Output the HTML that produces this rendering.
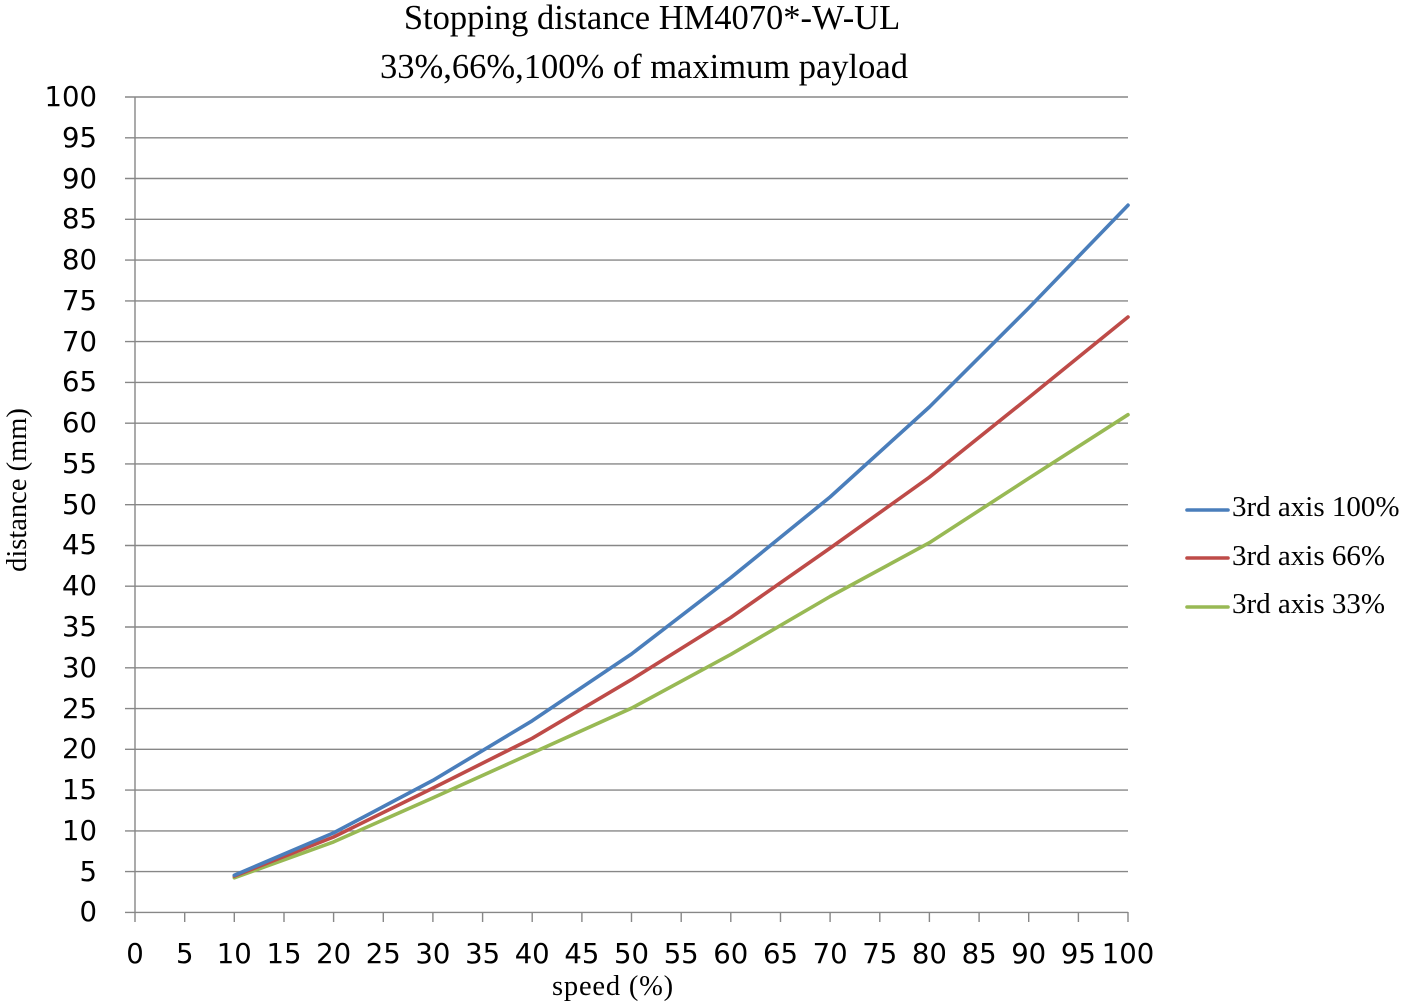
<!DOCTYPE html>
<html><head><meta charset="utf-8"><style>
html,body{margin:0;padding:0;background:#fff;}
svg{display:block;}
</style></head><body>
<svg width="1401" height="1005" viewBox="0 0 1401 1005" xmlns="http://www.w3.org/2000/svg">
<rect width="1401" height="1005" fill="#fff"/>
<g font-family="'Liberation Serif', serif" fill="#000" text-anchor="middle">
<text x="652" y="29" font-size="34.5">Stopping distance HM4070*-W-UL</text>
<text x="644" y="78" font-size="34.5">33%,66%,100% of maximum payload</text>
<text x="613" y="995" font-size="28.5" letter-spacing="0.8">speed (%)</text>
<text transform="translate(26,490) rotate(-90)" font-size="28.5">distance (mm)</text>
</g>
<g stroke="#878787" stroke-width="1.4" fill="none">
<path d="M125 97.0H1128M125 137.8H1128M125 178.5H1128M125 219.3H1128M125 260.1H1128M125 300.9H1128M125 341.6H1128M125 382.4H1128M125 423.2H1128M125 463.9H1128M125 504.7H1128M125 545.5H1128M125 586.2H1128M125 627.0H1128M125 667.8H1128M125 708.6H1128M125 749.3H1128M125 790.1H1128M125 830.9H1128M125 871.6H1128M125 912.4H1128"/>
<path d="M135 97V922M184.7 912V922M234.3 912V922M284 912V922M333.6 912V922M383.3 912V922M432.9 912V922M482.6 912V922M532.2 912V922M581.9 912V922M631.5 912V922M681.2 912V922M730.8 912V922M780.5 912V922M830.1 912V922M879.8 912V922M929.4 912V922M979.1 912V922M1028.7 912V922M1078.4 912V922M1128 912V922"/>
</g>
<g font-family="'DejaVu Sans', Verdana, sans-serif" font-size="27.5" fill="#000" text-anchor="end" dominant-baseline="central">
<text x="97" y="97">100</text><text x="97" y="138">95</text><text x="97" y="179">90</text><text x="97" y="219">85</text><text x="97" y="260">80</text><text x="97" y="301">75</text><text x="97" y="342">70</text><text x="97" y="382">65</text><text x="97" y="423">60</text><text x="97" y="464">55</text><text x="97" y="505">50</text><text x="97" y="545">45</text><text x="97" y="586">40</text><text x="97" y="627">35</text><text x="97" y="668">30</text><text x="97" y="709">25</text><text x="97" y="749">20</text><text x="97" y="790">15</text><text x="97" y="831">10</text><text x="97" y="872">5</text><text x="97" y="912">0</text>
</g>
<g font-family="'DejaVu Sans', Verdana, sans-serif" font-size="27.5" fill="#000" text-anchor="middle">
<text x="135" y="963">0</text><text x="184.7" y="963">5</text><text x="234.3" y="963">10</text><text x="284" y="963">15</text><text x="333.6" y="963">20</text><text x="383.3" y="963">25</text><text x="432.9" y="963">30</text><text x="482.6" y="963">35</text><text x="532.2" y="963">40</text><text x="581.9" y="963">45</text><text x="631.5" y="963">50</text><text x="681.2" y="963">55</text><text x="730.8" y="963">60</text><text x="780.5" y="963">65</text><text x="830.1" y="963">70</text><text x="879.8" y="963">75</text><text x="929.4" y="963">80</text><text x="979.1" y="963">85</text><text x="1028.7" y="963">90</text><text x="1078.4" y="963">95</text><text x="1128" y="963">100</text>
</g>
<g fill="none" stroke-width="3.6" stroke-linecap="round" stroke-linejoin="round">
<polyline stroke="#98b954" points="234.3,877.8 333.6,841.9 432.9,797.9 532.2,753.0 631.5,708.2 730.8,654.4 830.1,596.5 929.4,542.7 1028.7,478.4 1128,414.7"/>
<polyline stroke="#be4b48" points="234.3,876.1 333.6,837.0 432.9,788.1 532.2,738.3 631.5,679.6 730.8,617.5 830.1,548.1 929.4,477.2 1028.7,397.6 1128,317.0"/>
<polyline stroke="#4a7ebb" points="234.3,875.3 333.6,832.9 432.9,780.4 532.2,720.8 631.5,654.0 730.8,577.7 830.1,497.0 929.4,407.0 1028.7,308.0 1128,205.2"/>
</g>
<g stroke-width="3.6" stroke-linecap="round">
<line x1="1187" y1="510" x2="1228" y2="510" stroke="#4a7ebb"/>
<line x1="1187" y1="558" x2="1228" y2="558" stroke="#be4b48"/>
<line x1="1187" y1="607" x2="1228" y2="607" stroke="#98b954"/>
</g>
<g font-family="'Liberation Serif', serif" font-size="29" fill="#000">
<text x="1232" y="516">3rd axis 100%</text>
<text x="1232" y="565">3rd axis 66%</text>
<text x="1232" y="613">3rd axis 33%</text>
</g>
</svg>
</body></html>
